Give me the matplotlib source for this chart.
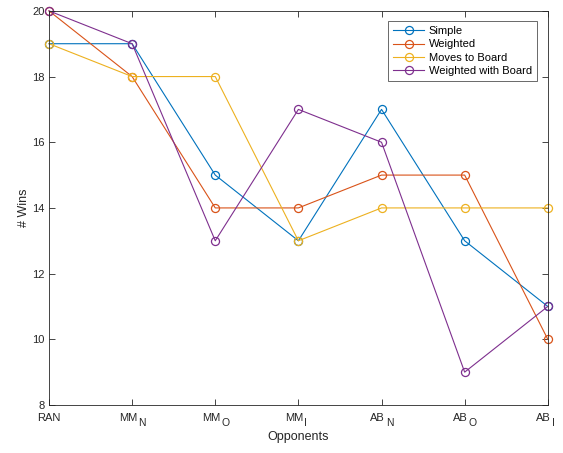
import matplotlib.pyplot as plt
from matplotlib.transforms import ScaledTranslation

plt.rcParams['font.family'] = ['Liberation Sans', 'DejaVu Sans']

opponents = ['RAN', 'MM', 'MM', 'MM', 'AB', 'AB', 'AB']
subscripts = ['', 'N', 'O', 'I', 'N', 'O', 'I']
simple = [19, 19, 15, 13, 17, 13, 11]
weighted = [20, 18, 14, 14, 15, 15, 10]
moves_to_board = [19, 18, 18, 13, 14, 14, 14]
weighted_with_board = [20, 19, 13, 17, 16, 9, 11]

series = [
    ('Simple', simple, '#0072BD'),
    ('Weighted', weighted, '#D95319'),
    ('Moves to Board', moves_to_board, '#EDB120'),
    ('Weighted with Board', weighted_with_board, '#7E2F8E'),
]

txt = '#262626'

fig = plt.figure(figsize=(5.63, 4.53), dpi=100)
ax = fig.add_axes([0.087, 0.106, 0.886, 0.870])

x = list(range(len(opponents)))
for name, vals, col in series:
    ax.plot(x, vals, '-o', color=col, lw=0.8, ms=5.8, mfc='none', mew=0.9,
            label=name, clip_on=False)

ax.set_xlim(0, len(opponents) - 1)
ax.set_ylim(8, 20)
ax.set_yticks(range(8, 21, 2))
ax.tick_params(direction='in', top=True, right=True, labelsize=8,
               colors=txt, length=4, width=0.6, pad=3)
ax.tick_params(axis='x', pad=5.5)
ax.set_xticks(x)
ax.set_xticklabels(opponents)
for sp in ax.spines.values():
    sp.set_linewidth(0.6)
    sp.set_color(txt)

# subscripts hang below the baseline of the opponent name
for lbl, sub in zip(ax.get_xticklabels(), subscripts):
    if not sub:
        continue
    lbl.set_transform(lbl.get_transform() + ScaledTranslation(-3 / 72, 0, fig.dpi_scale_trans))
    ax.annotate(sub, xy=(1, 0), xycoords=lbl, xytext=(0.8, 3), textcoords='offset points',
                ha='left', va='top', fontsize=7.5, color=txt, annotation_clip=False)

ax.set_xlabel('Opponents', fontsize=9, color=txt, labelpad=6)
ax.set_ylabel('# Wins', fontsize=9, color=txt, labelpad=2)

leg = ax.legend(loc='upper right', bbox_to_anchor=(0.978, 0.974), fontsize=8,
                frameon=True, fancybox=False, edgecolor=txt,
                handlelength=2.8, borderpad=0.45, labelspacing=0.3,
                handletextpad=0.4, borderaxespad=0)
leg.get_frame().set_linewidth(0.6)

fig.savefig('out.png', dpi=100)
